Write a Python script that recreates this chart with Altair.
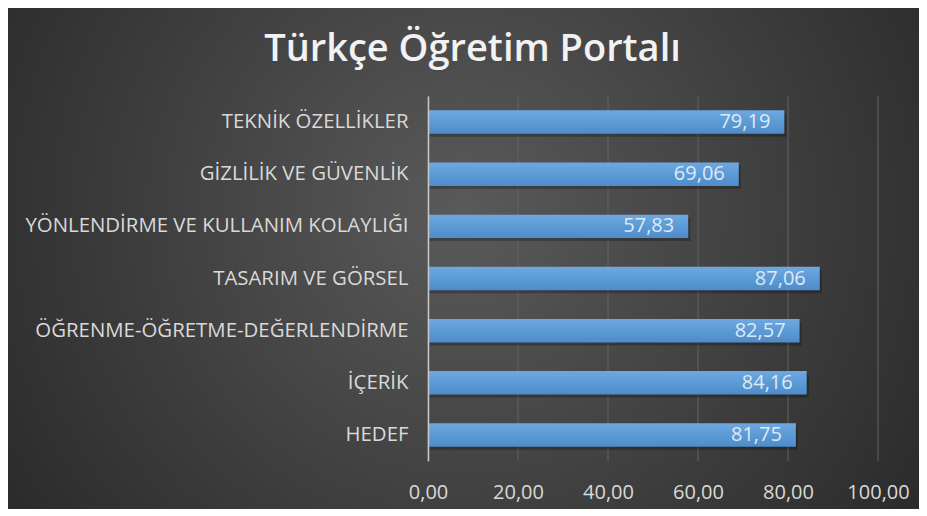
import altair as alt
import pandas as pd

categories = [
    "TEKNİK ÖZELLİKLER",
    "GİZLİLİK VE GÜVENLİK",
    "YÖNLENDİRME VE KULLANIM KOLAYLIĞI",
    "TASARIM VE GÖRSEL",
    "ÖĞRENME-ÖĞRETME-DEĞERLENDİRME",
    "İÇERİK",
    "HEDEF",
]
values = [79.19, 69.06, 57.83, 87.06, 82.57, 84.16, 81.75]
tick_values = [0, 20, 40, 60, 80, 100]
title_text = "Türkçe Öğretim Portalı"

df = pd.DataFrame({"category": categories, "value": values})
grid_df = pd.DataFrame({"value": tick_values})

W, H = 450, 365
PAD = {"left": 420, "top": 88, "right": 41, "bottom": 48}
FONT = "Open Sans"

x_scale = alt.Scale(domain=[0, 100], nice=False, zero=True)
x_axis = alt.Axis(
    title=None, values=tick_values, grid=False, domain=False, ticks=False, tickSize=0,
    labelExpr="replace(format(datum.value, '.2f'), '.', ',')",
    labelFont=FONT, labelFontSize=20, labelColor="#d9d9d9",
    labelBaseline="middle", labelPadding=31, labelFlush=False, labelOverlap=False,
    labelBound=False, zindex=1,
)
y_enc = alt.Y(
    "category:N", sort=categories,
    scale=alt.Scale(paddingInner=0.55, paddingOuter=0.275),
    axis=alt.Axis(
        title=None, ticks=False, grid=False, domain=True, domainColor="#c8c8c8",
        domainWidth=1.5, labelFont=FONT, labelFontSize=20.4, labelColor="#d9d9d9",
        labelPadding=20, labelLimit=600, zindex=1,
    ),
)

bg = alt.Chart(pd.DataFrame({"a": [0]})).mark_rect(
    fill=alt.Gradient(
        gradient="radial",
        stops=[
            alt.GradientStop(color="#5a5a5a", offset=0),
            alt.GradientStop(color="#3c3c3c", offset=0.5),
            alt.GradientStop(color="#1f1f1f", offset=1),
        ],
        x1=0.5, y1=0.45, r1=0, x2=0.5, y2=0.45, r2=0.75,
    )
).encode(
    x=alt.value(-PAD["left"]), x2=alt.value(W + PAD["right"]),
    y=alt.value(-PAD["top"]), y2=alt.value(H + PAD["bottom"]),
)

grid = alt.Chart(grid_df).mark_rule(color="#626262", strokeWidth=1).encode(
    x=alt.X("value:Q", scale=x_scale, axis=x_axis)
)

shadow = alt.Chart(df).mark_bar(color="#000000", opacity=0.25, xOffset=2, yOffset=3).encode(
    x=alt.X("value:Q", scale=x_scale, axis=x_axis), y=y_enc
)

bars = alt.Chart(df).mark_bar(
    fill=alt.Gradient(
        gradient="linear",
        stops=[
            alt.GradientStop(color="#6fa8e0", offset=0),
            alt.GradientStop(color="#5b9bd5", offset=0.5),
            alt.GradientStop(color="#4e8cca", offset=1),
        ],
        x1=0, y1=0, x2=0, y2=1,
    )
).encode(x=alt.X("value:Q", scale=x_scale, axis=x_axis), y=y_enc)

labels = alt.Chart(df).transform_calculate(
    label="replace(format(datum.value, '.2f'), '.', ',')"
).mark_text(
    align="right", baseline="middle", dx=-14, font=FONT, fontSize=20, color="#dfe9f5"
).encode(x=alt.X("value:Q", scale=x_scale, axis=x_axis), y=y_enc, text="label:N")

chart = alt.layer(bg, grid, shadow, bars, labels).properties(
    width=W, height=H,
    autosize="none",
    padding=PAD,
    background="#2c2c2c",
    title=alt.TitleParams(
        title_text, font=FONT, fontSize=38, fontWeight=600, color="#f2f2f2",
        anchor="middle", frame="bounds", offset=-61, dx=9, zindex=1,
    ),
).configure_view(stroke=None)

chart.save("out.html", embed_options={"renderer": "svg", "actions": False})
